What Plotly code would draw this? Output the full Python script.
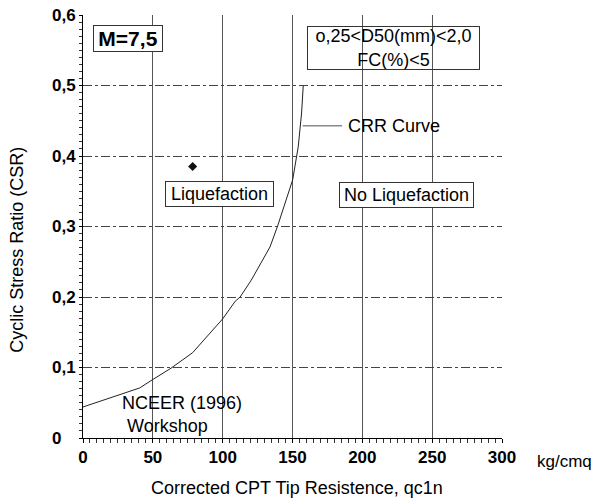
import plotly.graph_objects as go

# CRR curve (NCEER 1996)
crr_q = [0, 40.6, 50, 63, 78.5, 92.6, 100, 109, 112.5, 120.5, 126.5, 133.9,
         139.4, 144.6, 150.1, 154.1, 156.5, 157.7]
crr_csr = [0.044, 0.071, 0.083, 0.099, 0.121, 0.152, 0.169, 0.194, 0.200,
           0.224, 0.246, 0.271, 0.301, 0.333, 0.366, 0.413, 0.461, 0.500]

# single data point
point_q = [78.5]
point_csr = [0.385]

x_ticks = [0, 50, 100, 150, 200, 250, 300]
y_ticks = [0, 0.1, 0.2, 0.3, 0.4, 0.5, 0.6]
y_ticklabels = ["0\u00a0\u00a0\u00a0", "0,1", "0,2", "0,3", "0,4", "0,5", "0,6"]

x_minor = [i * 5 for i in range(61)]
y_minor = [round(i * 0.01, 2) for i in range(61)]

FONT = "Liberation Sans, Arial, sans-serif"

fig = go.Figure()
fig.add_trace(go.Scatter(x=crr_q, y=crr_csr, mode="lines",
                         line=dict(color="#222222", width=1), hoverinfo="skip"))
fig.add_trace(go.Scatter(x=point_q, y=point_csr, mode="markers",
                         marker=dict(symbol="diamond", size=7, color="#111111")))

# CRR leader line
fig.add_shape(type="line", x0=157.3, x1=185.5, y0=0.443, y1=0.443,
              line=dict(color="#8a8a8a", width=1.5))

box = dict(bgcolor="white", bordercolor="#333333", borderwidth=1, borderpad=0,
           showarrow=False, font=dict(family=FONT, size=18, color="black"))

fig.add_annotation(x=31.9, y=0.567, text="<b>M=7,5</b>", width=68, height=25,
                   **{**box, "font": dict(family=FONT, size=21, color="black")})
fig.add_annotation(x=98.0, y=0.346, text="Liquefaction", width=107, height=24, **box)
fig.add_annotation(x=231.3, y=0.344, text="No Liquefaction", width=133, height=24, **box)
fig.add_annotation(x=222.4, y=0.553, text="o,25<D50(mm)<2,0<br>FC(%)<5",
                   width=171, height=42,
                   **{**box, "bgcolor": "rgba(0,0,0,0)"})
fig.add_annotation(x=188.3, y=0.443, text="CRR Curve", xanchor="left",
                   showarrow=False, font=dict(family=FONT, size=18, color="black"))
fig.add_annotation(x=26.5, y=0.034, text="NCEER (1996)<br> Workshop", xanchor="left",
                   align="left", showarrow=False,
                   font=dict(family=FONT, size=18, color="black"))
fig.add_annotation(xref="paper", yref="paper", x=1.079, y=-0.0567, text="kg/cmq",
                   xanchor="left", yanchor="middle", showarrow=False,
                   font=dict(family=FONT, size=17, color="black"))
fig.add_annotation(xref="paper", yref="paper", x=-0.156, y=0.444,
                   text="Cyclic Stress Ratio (CSR)", textangle=-90, showarrow=False,
                   xanchor="center", yanchor="middle",
                   font=dict(family=FONT, size=18, color="black"))
fig.add_annotation(xref="paper", yref="paper", x=0.51, y=-0.1187,
                   text="Corrected CPT Tip Resistence, qc1n", showarrow=False,
                   xanchor="center", yanchor="middle",
                   font=dict(family=FONT, size=18, color="black"))

fig.update_layout(
    width=594, height=501,
    margin=dict(l=83, r=92, t=15, b=63, autoexpand=False),
    paper_bgcolor="white", plot_bgcolor="white",
    showlegend=False,
    font=dict(family=FONT, size=17, color="black"),
    xaxis=dict(range=[0, 300], tickmode="array", tickvals=x_ticks,
               ticktext=["<b>%d</b>" % v for v in x_ticks],
               showgrid=True, gridcolor="#555555", gridwidth=1,
               showline=True, linecolor="black", linewidth=1,
               ticks="outside", ticklen=4, tickcolor="black",
               minor=dict(tickmode="array", tickvals=x_minor, ticks="outside",
                          ticklen=4, tickcolor="#333333", showgrid=False),
               zeroline=False, fixedrange=True, automargin=False,
               tickfont=dict(family=FONT, size=17)),
    yaxis=dict(range=[0, 0.6], tickmode="array", tickvals=y_ticks,
               ticktext=["<b>%s</b>" % t for t in y_ticklabels],
               showgrid=True, gridcolor="#444444", gridwidth=1, griddash="dashdot",
               showline=True, linecolor="black", linewidth=1,
               ticks="outside", ticklen=3, tickcolor="black",
               minor=dict(tickmode="array", tickvals=y_minor, ticks="outside",
                          ticklen=3, tickcolor="#333333", showgrid=False),
               zeroline=False, fixedrange=True, automargin=False,
               tickfont=dict(family=FONT, size=17)),
)

fig.write_html("out.html")
